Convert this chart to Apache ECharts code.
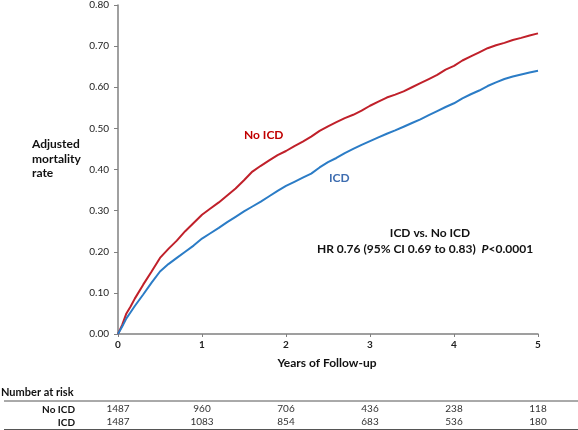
<!DOCTYPE html>
<html>
<head>
<meta charset="utf-8">
<script src="https://cdn.jsdelivr.net/npm/echarts@6/dist/echarts.min.js"></script>
<style>
html,body{margin:0;padding:0;background:#fff;}
#c{width:578px;height:430px;}
</style>
</head>
<body>
<div id="c"></div>
<script>
var years = [0, 0.05, 0.1, 0.15, 0.2, 0.3, 0.4, 0.5, 0.6, 0.7, 0.8, 0.9, 1.0, 1.1, 1.2, 1.3, 1.4, 1.5, 1.6, 1.7, 1.8, 1.9, 2.0, 2.1, 2.2, 2.3, 2.4, 2.5, 2.6, 2.7, 2.8, 2.9, 3.0, 3.1, 3.2, 3.3, 3.4, 3.5, 3.6, 3.7, 3.8, 3.9, 4.0, 4.1, 4.2, 4.3, 4.4, 4.5, 4.6, 4.7, 4.8, 4.9, 5.0];
var noIcd = [0, 0.022, 0.05, 0.067, 0.086, 0.12, 0.152, 0.185, 0.207, 0.227, 0.25, 0.27, 0.29, 0.305, 0.32, 0.337, 0.354, 0.374, 0.395, 0.409, 0.422, 0.435, 0.445, 0.457, 0.468, 0.48, 0.494, 0.505, 0.515, 0.525, 0.533, 0.543, 0.555, 0.565, 0.575, 0.582, 0.59, 0.6, 0.61, 0.62, 0.63, 0.643, 0.652, 0.665, 0.675, 0.685, 0.695, 0.702, 0.708, 0.715, 0.72, 0.726, 0.731];
var icd = [0, 0.018, 0.038, 0.053, 0.068, 0.096, 0.125, 0.152, 0.17, 0.185, 0.2, 0.215, 0.232, 0.245, 0.258, 0.272, 0.285, 0.298, 0.31, 0.322, 0.335, 0.348, 0.36, 0.37, 0.38, 0.39, 0.405, 0.418, 0.428, 0.44, 0.45, 0.46, 0.469, 0.478, 0.487, 0.495, 0.504, 0.513, 0.522, 0.532, 0.542, 0.552, 0.561, 0.573, 0.583, 0.592, 0.603, 0.612, 0.62, 0.626, 0.631, 0.636, 0.64];
var riskYears = [0, 1, 2, 3, 4, 5];
var riskNoIcd = [1487, 960, 706, 436, 238, 118];
var riskIcd = [1487, 1083, 854, 683, 536, 180];

var FONT = 'Lato';
function pairs(xs, ys){ return xs.map(function(x,i){ return [x, ys[i]]; }); }
function riskAxis(idx, arr){
  return {
    type:'value', gridIndex: idx, min:0, max:5, interval:1,
    axisLine:{show:false}, axisTick:{show:false}, splitLine:{show:false},
    axisLabel:{margin:0, fontFamily:FONT, fontSize:10, color:'#333',
      formatter:function(v){ var i = riskYears.indexOf(v); return i>=0 ? String(arr[i]) : ''; }}
  };
}
var chart = echarts.init(document.getElementById('c'), null, {renderer:'canvas'});
chart.setOption({
  animation:false,
  backgroundColor:'#fff',
  grid:[
    {left:118, right:40, top:3.5, bottom:96},
    {left:118, right:40, top:404, height:0},
    {left:118, right:40, top:417, height:0}
  ],
  xAxis:[
    {type:'value', gridIndex:0, min:0, max:5, interval:1,
     axisLine:{lineStyle:{color:'#808080', width:1.5}},
     axisTick:{show:true, length:3, lineStyle:{color:'#808080'}},
     splitLine:{show:false},
     axisLabel:{margin:6, fontFamily:FONT, fontSize:10, fontWeight:'bold', color:'#222'}},
    riskAxis(1, riskNoIcd),
    riskAxis(2, riskIcd)
  ],
  yAxis:[
    {type:'value', gridIndex:0, min:0, max:0.8, interval:0.1,
     axisLine:{show:true, lineStyle:{color:'#808080', width:1.5}},
     axisTick:{show:true, length:4, lineStyle:{color:'#808080'}},
     splitLine:{show:false},
     axisLabel:{margin:9, fontFamily:FONT, fontSize:10, color:'#222',
       formatter:function(v){ return v.toFixed(2); }}},
    {type:'value', gridIndex:1, show:false},
    {type:'value', gridIndex:2, show:false}
  ],
  series:[
    {type:'line', name:'No ICD', xAxisIndex:0, yAxisIndex:0, data:pairs(years, noIcd),
     showSymbol:false, symbol:'none', lineStyle:{color:'#C0202A', width:2}, z:3},
    {type:'line', name:'ICD', xAxisIndex:0, yAxisIndex:0, data:pairs(years, icd),
     showSymbol:false, symbol:'none', lineStyle:{color:'#2B7CC6', width:2}, z:3}
  ],
  graphic:[
    {type:'text', left:32, top:137, style:{text:'Adjusted\nmortality\nrate', fontFamily:FONT, fontSize:12, fontWeight:'bold', fill:'#111', lineHeight:14.5}},
    {type:'text', left:244, top:129, style:{text:'No ICD', fontFamily:FONT, fontSize:12, fontWeight:'bold', fill:'#C00000'}},
    {type:'text', left:329, top:172, style:{text:'ICD', fontFamily:FONT, fontSize:12, fontWeight:'bold', fill:'#3E6DB0'}},
    {type:'text', x:430, y:233, style:{text:'ICD vs. No ICD', fontFamily:FONT, fontSize:12, fontWeight:'bold', fill:'#111', align:'center', verticalAlign:'middle'}},
    {type:'text', x:425, y:249, style:{
      text:'{n|HR 0.76 (95% CI 0.69 to 0.83)  }{i|P}{n|<0.0001}',
      align:'center', verticalAlign:'middle',
      rich:{
        n:{fontFamily:FONT, fontSize:12, fontWeight:'bold', fill:'#111'},
        i:{fontFamily:FONT, fontSize:12, fontWeight:'bold', fontStyle:'italic', fill:'#111'}
      }}},
    {type:'text', x:327, y:363, style:{text:'Years of Follow-up', fontFamily:FONT, fontSize:12, fontWeight:'bold', fill:'#111', align:'center', verticalAlign:'middle'}},
    {type:'text', left:1, top:387, style:{text:'Number at risk', fontFamily:FONT, fontSize:11, fontWeight:'bold', fill:'#111'}},
    {type:'line', shape:{x1:4, y1:401, x2:578, y2:401}, style:{stroke:'#555', lineWidth:1}},
    {type:'line', shape:{x1:4, y1:429.5, x2:578, y2:429.5}, style:{stroke:'#555', lineWidth:1}},
    {type:'text', x:75, y:410, style:{text:'No ICD', fontFamily:FONT, fontSize:10, fontWeight:'bold', fill:'#111', align:'right', verticalAlign:'middle'}},
    {type:'text', x:75, y:423, style:{text:'ICD', fontFamily:FONT, fontSize:10, fontWeight:'bold', fill:'#111', align:'right', verticalAlign:'middle'}}
  ]
});
</script>
</body>
</html>
